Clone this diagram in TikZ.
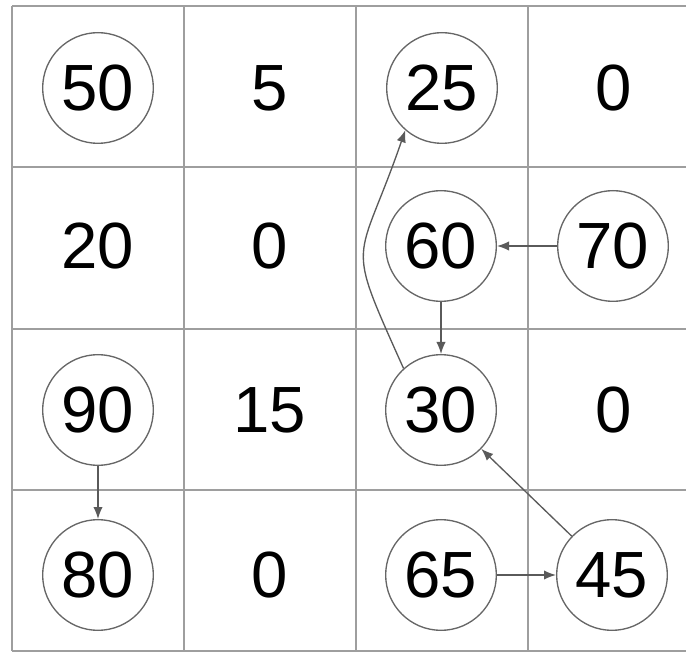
\documentclass[tikz,border=0pt]{standalone}
\usepackage{fontspec}
\setmainfont{Liberation Sans}
\usetikzlibrary{arrows.meta}
\definecolor{gridgray}{HTML}{9E9E9E}
\definecolor{circgray}{HTML}{666666}
\definecolor{arrowgray}{HTML}{5A5A5A}
\begin{document}
\begin{tikzpicture}[x=0.75pt,y=-0.75pt,
  cell/.style={font=\fontsize{49}{50}\selectfont, inner sep=0pt},
  circ/.style={cell, circle, draw=circgray, line width=1pt, minimum size=83pt},
  gridline/.style={draw=gridgray, line width=1.5pt},
  link/.style={draw=arrowgray, line width=1pt, -{Latex[length=9pt,width=7pt]}}]
\useasboundingbox (0,0) rectangle (686,652);
\begin{scope}
\clip (0,0) rectangle (686,652);
\foreach \x in {12,184,356,528,700} \draw[gridline] (\x,6) -- (\x,651);
\foreach \y in {6,167,329,490,651} \draw[gridline] (12,\y) -- (700,\y);
\end{scope}
% row 0
\node[circ] (n50) at (98,88) {50};
\node[cell] (n5) at (270,88) {5};
\node[circ] (n25) at (442,88) {25};
\node[cell] (n0a) at (614,88) {0};
% row 1
\node[cell] (n20) at (98,246) {20};
\node[cell] (n0b) at (270,246) {0};
\node[circ] (n60) at (441,246) {60};
\node[circ] (n70) at (613,246) {70};
% row 2
\node[circ] (n90) at (98,410) {90};
\node[cell] (n15) at (270,410) {15};
\node[circ] (n30) at (441,410) {30};
\node[cell] (n0c) at (614,410) {0};
% row 3
\node[circ] (n80) at (98,575) {80};
\node[cell] (n0d) at (270,575) {0};
\node[circ] (n65) at (441,575) {65};
\node[circ] (n45) at (612,575) {45};
% connectors
\draw[link] (n70) -- (n60);
\draw[link] (n60) -- (n30);
\draw[link] (n90) -- (n80);
\draw[link] (n65) -- (n45);
\draw[link] (n45) -- (n30);
\draw[link] (n30.132) .. controls +(-60,-134) and +(-48,139) .. (n25.-131);
\end{tikzpicture}
\end{document}
